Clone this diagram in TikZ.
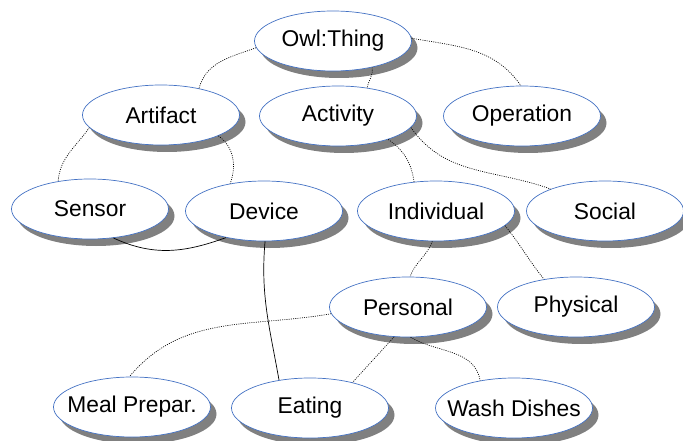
\documentclass[tikz,border=0pt]{standalone}
\usepackage{fontspec}
\setmainfont{Liberation Sans}
\usetikzlibrary{shapes.geometric,shadows}
\definecolor{rim}{RGB}{68,114,196}
\tikzset{
  cls/.style={ellipse, draw=rim, line width=0.7pt, fill=white,
    minimum width=157pt, minimum height=60pt, inner sep=0pt,
    font=\fontsize{22.8}{26}\selectfont,
    execute at begin node={\hbox to 0pt\bgroup\hss},
    execute at end node={\hss\egroup},
    drop shadow={shadow xshift=6pt, shadow yshift=-7pt, fill=black!50, opacity=1}},
  isa/.style={line width=0.65pt, dash pattern=on 1pt off 1.2pt},
  use/.style={line width=0.7pt}
}
\begin{document}
\begin{tikzpicture}[x=1pt,y=1pt]
        \useasboundingbox (0,0) rectangle (683,-441);

        %top
        \node[cls] (owl) at (333,-41) {Owl:Thing};

        %second row
        \node[cls] (art) at (161,-115) {Artifact};
        \node[cls] (act) at (338,-116) {Activity};
        \node[cls] (op) at (522,-116) {Operation};

        %third row
        \node[cls] (sen) at (90,-209) {Sensor};
        \node[cls] (dev) at (264,-211) {Device};
        \node[cls] (ind) at (436,-211) {Individual};
        \node[cls] (soc) at (605,-211) {Social};

        %fourth row
        \node[cls] (per) at (408,-307) {Personal};
        \node[cls] (phy) at (576,-307) {Physical};

        %bottom
        \node[cls] (meal) at (132,-407) {Meal Prepar.};
        \node[cls] (eat) at (310,-408) {Eating};
        \node[cls] (wash) at (514,-408) {Wash Dishes};

        %subclass links
        \draw[isa] (owl.185) to[out=200,in=75] (art.35);
        \draw[isa] (owl.-34) to[out=-80,in=80] (act.44);
        \draw[isa] (owl.2) to[out=-10,in=125] (op.92);
        \draw[isa] (art.190) to[out=235,in=85] (sen.139);
        \draw[isa] (art.-20) to[out=-35,in=70] (dev.141);
        \draw[isa] (act.-25) to[out=-35,in=98] (ind.127);
        \draw[isa] (act.-9) to[out=-55,in=160] (soc.158);
        \draw[isa] (ind.-97) to[out=-110,in=70] (per.86);
        \draw[isa] (ind.-12) to[out=-51,in=129] (phy.139);
        \draw[isa] (per.185) to[out=190,in=50] (meal.95);
        \draw[isa] (per.245) to[out=228,in=48] (eat.31);
        \draw[isa] (per.-85) to[out=-30,in=100] (wash.141);

        %solid links
        \draw[use] (sen.-51) to[out=-25,in=200] (dev.215);
        \draw[use] (dev.-88) to[out=-95,in=100] (eat.138);
\end{tikzpicture}
\end{document}
